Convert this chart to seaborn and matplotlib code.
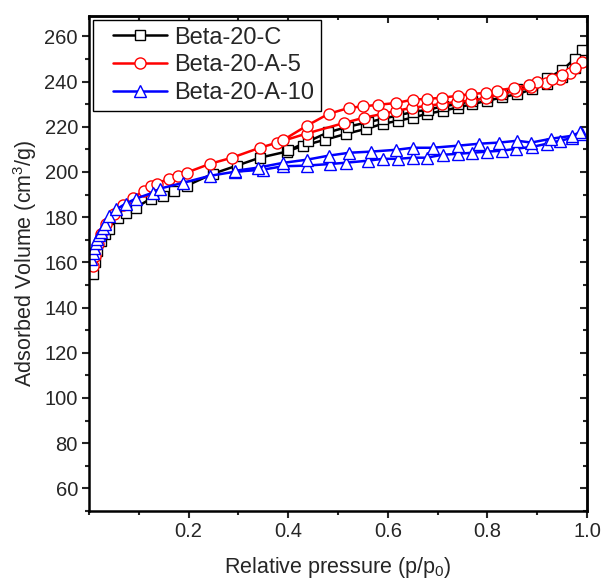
import matplotlib
matplotlib.use("Agg")
import matplotlib.pyplot as plt
import seaborn as sns
import numpy as np
from matplotlib.ticker import MultipleLocator, FixedLocator
from matplotlib.legend_handler import HandlerLine2D
from matplotlib.lines import Line2D

sns.set_style("ticks")
plt.rcParams['font.family'] = ['Liberation Sans', 'DejaVu Sans']
plt.rcParams['mathtext.fontset'] = 'custom'
plt.rcParams['mathtext.rm'] = 'Liberation Sans'
plt.rcParams['mathtext.it'] = 'Liberation Sans'

series_names = ["Beta-20-C", "Beta-20-A-5", "Beta-20-A-10"]

# Beta-20-C
c_ads_x = [0.008, 0.012, 0.017, 0.024, 0.032, 0.04, 0.058, 0.074, 0.094, 0.124, 0.149, 0.17, 0.196,
           0.249, 0.297, 0.343, 0.397, 0.43, 0.473, 0.517, 0.557, 0.59, 0.62, 0.65, 0.678, 0.71,
           0.74, 0.77, 0.80, 0.83, 0.86, 0.89, 0.92, 0.95, 0.975, 0.99]
c_ads_y = [155, 160, 165, 169.6, 172.5, 174.9, 179.8, 182, 184.2, 188.2, 189.5, 191.5, 193.9,
           199.2, 202.8, 206.3, 209, 211.6, 214.2, 216.9, 219.1, 221.3, 222.6, 224, 225.7, 227,
           228.5, 230, 231.5, 233, 234.5, 236.5, 239, 242, 246, 254]
c_des_x = [0.975, 0.95, 0.92, 0.89, 0.86, 0.83, 0.80, 0.77, 0.74, 0.71, 0.68, 0.65, 0.62, 0.59,
           0.56, 0.52, 0.48, 0.44, 0.40]
c_des_y = [250, 245, 241.5, 238.5, 236.5, 234.5, 233, 231.5, 230, 229, 227.5, 226.5, 225, 223.5,
           222, 220, 217.5, 213.5, 209.5]

# Beta-20-A-5
a5_ads_x = [0.008, 0.012, 0.018, 0.025, 0.035, 0.05, 0.068, 0.088, 0.11, 0.124, 0.136, 0.16, 0.178,
            0.196, 0.243, 0.287, 0.343, 0.377, 0.437, 0.513, 0.552, 0.59, 0.617, 0.648, 0.678, 0.708,
            0.738, 0.768, 0.798, 0.828, 0.858, 0.888, 0.918, 0.945, 0.965, 0.99]
a5_ads_y = [158.6, 163, 168, 172.5, 177, 181.6, 185.5, 188.6, 191.5, 194, 194.8, 197, 198.3,
            199.7, 203.6, 206.3, 210.7, 212.9, 217, 221.7, 224, 225.7, 227, 228.4, 229.2, 230.1,
            231, 231.5, 232.8, 234.5, 236, 237.5, 239.4, 241.2, 243.8, 248.7]
a5_des_x = [0.975, 0.95, 0.93, 0.9, 0.884, 0.854, 0.82, 0.798, 0.768, 0.74, 0.708, 0.678, 0.65,
            0.617, 0.58, 0.55, 0.523, 0.481, 0.437, 0.389]
a5_des_y = [246, 243, 241.2, 240, 238.5, 237.2, 236, 235, 234.5, 233.7, 232.8, 232.3, 232,
            230.5, 229.7, 229, 228.4, 225.7, 220.4, 214]

# Beta-20-A-10
a10_ads_x = [0.005, 0.008, 0.011, 0.014, 0.017, 0.02, 0.024, 0.028, 0.033, 0.04, 0.055, 0.074, 0.094,
             0.128, 0.142, 0.189, 0.243, 0.293, 0.349, 0.389, 0.437, 0.483, 0.517, 0.561, 0.59, 0.62,
             0.65, 0.678, 0.71, 0.74, 0.77, 0.8, 0.83, 0.858, 0.89, 0.92, 0.945, 0.97, 0.99]
a10_ads_y = [161.7, 164, 166.5, 168.5, 170.5, 172, 173.5, 175, 177, 180.7, 183.5, 186, 188.2,
             190.8, 192.6, 195.2, 198.3, 200.1, 201, 202.5, 202.8, 203.5, 204.1, 205, 205.8, 205.8,
             206.3, 206.3, 207.6, 208, 208.5, 209, 209.4, 210.3, 211.1, 212.5, 213.8, 215, 217]
a10_des_x = [0.985, 0.97, 0.928, 0.888, 0.86, 0.824, 0.784, 0.74, 0.69, 0.65, 0.617, 0.567, 0.523,
             0.481, 0.437, 0.389, 0.339, 0.293]
a10_des_y = [217.5, 216, 214.7, 213, 213.8, 213, 212.5, 211.6, 210.7, 210.7, 209.8, 209, 208.5,
             207.2, 205.4, 204, 201.9, 200.5]

x_ticks = [0.2, 0.4, 0.6, 0.8, 1.0]
x_tick_labels = ["0.2", "0.4", "0.6", "0.8", "1.0"]
y_ticks = [60, 80, 100, 120, 140, 160, 180, 200, 220, 240, 260]


class ShiftedHandler(HandlerLine2D):
    """Line handler whose sample starts a bit to the right of the handle box."""
    def __init__(self, shift_frac=0.55, **kw):
        super().__init__(**kw)
        self.shift_frac = shift_frac

    def get_xdata(self, legend, xdescent, ydescent, width, height, fontsize):
        shift = self.shift_frac * fontsize
        return super().get_xdata(legend, xdescent - shift, ydescent, width - shift,
                                 height, fontsize)


fig = plt.figure(figsize=(6.03, 5.81), dpi=100)
ax = fig.add_axes([0.1476, 0.1205, 0.8259, 0.852])

styles = [
    dict(color="black", marker="s", markerfacecolor="white", markeredgecolor="black", markersize=7.5),
    dict(color="red", marker="o", markerfacecolor="white", markeredgecolor="red", markersize=8),
    dict(color="blue", marker="^", markerfacecolor="white", markeredgecolor="blue", markersize=8.5),
]
data = [
    (c_ads_x + c_des_x, c_ads_y + c_des_y),
    (a5_ads_x + a5_des_x, a5_ads_y + a5_des_y),
    (a10_ads_x + a10_des_x, a10_ads_y + a10_des_y),
]
for name, (xs, ys), st in zip(series_names, data, styles):
    sns.lineplot(x=xs, y=ys, sort=False, estimator=None, ax=ax, label=name,
                 linewidth=1.8, markeredgewidth=1.0, **st)

ax.set_xlim(0.0, 1.0)
ax.set_ylim(50, 269)
ax.xaxis.set_major_locator(FixedLocator(x_ticks))
ax.xaxis.set_minor_locator(MultipleLocator(0.1))
ax.yaxis.set_major_locator(FixedLocator(y_ticks))
ax.yaxis.set_minor_locator(MultipleLocator(10))
ax.set_xticklabels(x_tick_labels)
ax.tick_params(which="major", direction="out", length=5, width=1.5, labelsize=14.5, pad=3)
ax.tick_params(which="minor", direction="out", length=3, width=1.5)

for s in ax.spines.values():
    s.set_linewidth(1.8)
    s.set_color("black")

top = ax.secondary_xaxis("top")
top.xaxis.set_major_locator(FixedLocator(x_ticks))
top.xaxis.set_minor_locator(MultipleLocator(0.1))
top.tick_params(which="major", direction="in", length=5, width=1.5, labeltop=False)
top.tick_params(which="minor", direction="in", length=3, width=1.5)
top.spines["top"].set_linewidth(1.8)

right = ax.secondary_yaxis("right")
right.yaxis.set_major_locator(FixedLocator(y_ticks))
right.yaxis.set_minor_locator(MultipleLocator(10))
right.tick_params(which="major", direction="in", length=5, width=1.5, labelright=False)
right.tick_params(which="minor", direction="in", length=3, width=1.5)
right.spines["right"].set_linewidth(1.8)

ax.set_xlabel("Relative pressure (p/p$_0$)", fontsize=15.5, labelpad=10)
ax.set_ylabel("Adsorbed Volume (cm$^3$/g)", fontsize=15.5, labelpad=4)

leg = ax.legend(loc="upper left", fontsize=17, frameon=True, fancybox=False,
                edgecolor="black", framealpha=1.0, handlelength=2.85, borderaxespad=0.15,
                labelspacing=0.24, handletextpad=0.3, borderpad=0.3,
                handler_map={Line2D: ShiftedHandler(shift_frac=0.55)})
leg.get_frame().set_linewidth(1.0)

fig.savefig("out.png", dpi=100)
